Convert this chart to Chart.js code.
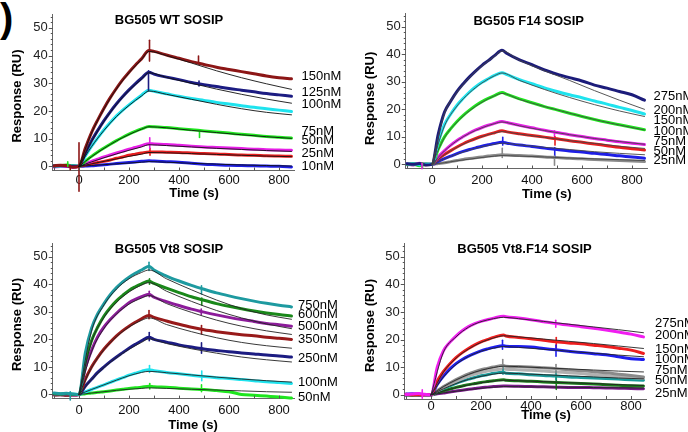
<!DOCTYPE html>
<html>
<head>
<meta charset="utf-8">
<script src="https://cdn.jsdelivr.net/npm/chart.js@4.4.1/dist/chart.umd.min.js"></script>
<style>
  html, body { margin: 0; padding: 0; background: #fff; }
  #wrap { position: relative; width: 688px; height: 432px; overflow: hidden; background: #fff; }
  #wrap canvas { position: absolute; left: 0; top: 0; }
  #paren { position: absolute; left: 0; top: -2px; font: bold 40px "Liberation Sans", Arial, sans-serif; line-height: 40px; color: #000; }
</style>
</head>
<body>
<div id="wrap">
  <div id="paren">)</div>
  <canvas id="c1" width="688" height="432"></canvas>
  <canvas id="c2" width="688" height="432"></canvas>
  <canvas id="c3" width="688" height="432"></canvas>
  <canvas id="c4" width="688" height="432"></canvas>
</div>
<script>
// ---- sampling times (s) ----
const TIME = [-100,-75,-50,-25,0,25,50,75,100,125,150,175,200,225,250,280,300,350,400,450,500,550,600,650,700,750,800,850];
const TIME_VF = [-100,-75,-50,-25,0,25,50,75,100,125,150,175,200,225,250,290,300,350,400,450,500,550,600,650,700,750,800,850];
const FIT_TIME = [0,50,100,150,200,250,280,350,450,550,650,750,850];
const FIT_TIME_VF = [0,50,100,150,200,250,290,350,450,550,650,750,850];

// ---- axis ticks ----
const X_TICKS = [0,200,400,600,800];
const X_MINOR = [-100,0,100,200,300,400,500,600,700,800];
const Y_TICKS = [0,10,20,30,40,50];
const Y_MINOR = [0,2,4,6,8,10,12,14,16,18,20,22,24,26,28,30,32,34,36,38,40,42,44,46,48,50,52,54];

// ---- BG505 WT SOSIP (RU) ----
const WT_LABELS = ['150nM','125nM','100nM','75nM','50nM','25nM','10nM'];
const WT_LABEL_Y = [32.6,26.8,22.4,12.6,9.2,4.5,0];
const WT_150 = [0.2,0.4,0.3,-0.3,0, 6.5,12.2,16.8,21,24.8,28.2,31.3,34,36.5,38.8,41.8, 41.5,40.2,39,37.8,36.8,35.8,35,34.2,33.4,32.6,32,31.6];
const WT_125 = [0.1,0.3,0.2,0,0, 4.8,9.2,13,16.5,19.7,22.6,25.2,27.6,29.8,31.8,34, 33.3,32.2,31.3,30.3,29.5,28.8,28.1,27.5,26.9,26.3,25.8,25.3];
const WT_100 = [0.2,0.1,0.3,0.1,0, 3.7,7.2,10.3,13.2,15.8,18.2,20.3,22.2,24,25.7,27.5, 27.1,26.2,25.3,24.5,23.8,23.1,22.5,21.9,21.3,20.8,20.3,19.8];
const WT_75 = [0.1,0.2,0.5,0.2,0, 1.8,3.6,5.2,6.6,8,9.3,10.5,11.6,12.6,13.5,14.4, 14.3,14,13.6,13.2,12.8,12.4,12,11.6,11.2,10.8,10.5,10.2];
const WT_50 = [-0.2,-0.1,0,-0.3,0, 0.9,1.8,2.6,3.4,4.1,4.8,5.5,6.2,6.8,7.5,8.2, 8.1,7.9,7.6,7.3,7,6.8,6.6,6.4,6.2,6,5.9,5.8];
const WT_25 = [0,-0.1,0.1,-0.2,0, 0.5,1,1.4,1.8,2.3,2.9,3.4,4,4.4,4.8,5.2, 5.2,5.1,5,4.8,4.6,4.5,4.3,4.1,4,3.8,3.7,3.6];
const WT_10 = [0.1,0,-0.1,0.1,0, 0.1,0.2,0.4,0.6,0.8,1,1.2,1.4,1.6,1.8,2, 1.9,1.7,1.5,1.1,0.8,0.6,0.4,0.3,0.2,0.1,0,-0.2];
const WT_FIT_150 = [0,12,20.8,28,33.8,38.6,41.5,40,37.3,34.5,32,29.8,27.8];
const WT_FIT_125 = [0,9,16.3,22.4,27.4,31.5,33.8,32.1,30,27.9,26,24.3,22.8];
const WT_FIT_100 = [0,7.1,13,18,22,25.4,27.2,26,24.2,22.4,20.8,19.5,18.6];
const WT_FIT_75 = [0,3.5,6.5,9.2,11.5,13.4,14.3,13.9,13,12.2,11.4,10.7,10.1];
const WT_FIT_50 = [0,1.6,3.1,4.5,5.8,7,7.8,7.5,7,6.5,6.1,5.7,5.4];
const WT_FIT_25 = [0,0.9,1.8,2.7,3.6,4.4,5,4.9,4.6,4.3,4,3.7,3.5];
const WT_FIT_10 = [0,0.3,0.6,0.9,1.2,1.5,1.7,1.5,1.1,0.8,0.5,0.3,0.1];
// injection transients: [time, low, high, trace index]
const WT_SPIKES = [[0,-9,8.5,0],[282,38,45.5,0],[278,27.5,34.5,1],[283,6.5,10.3,4],[284,4,6.5,5],[-35,-1.2,0.4,0],[-45,0,1.6,3],[478,37,39.8,0],[480,29,30.8,1],[482,10.4,13.2,3]];

// ---- BG505 F14 SOSIP (RU) ----
const F14_LABELS = ['275nM','200nM','150nM','100nM','75nM','50nM','25nM'];
const F14_LABEL_Y = [24.6,19.5,15.9,11.9,8.2,4.8,1.6];
const F14_275 = [0.2,0,0.3,-0.2,0, 11,19,23,26.5,29.3,31.8,34,36,37.7,39.5,41.5, 40.3,38,36.2,34.3,32.8,31.5,30.3,28.8,27.7,26.5,25.3,23.3];
const F14_200 = [0.1,0.2,-0.1,0,0, 8,14.5,18.3,21.5,24,26.3,28.2,29.8,31.1,32.3,33.3, 32.6,30.8,29.3,27.8,26.5,25.3,24.2,23,21.9,20.7,19.6,18.3];
const F14_150 = [0,0.2,-0.5,0.1,0, 5.5,10,13,15.6,17.8,19.7,21.4,22.8,24,25,26.1, 25.4,23.8,22.4,21,19.8,18.6,17.4,16.3,15.3,14.4,13.5,12.6];
const F14_100 = [0.2,-0.1,0.4,0,0, 2.8,5,7,8.7,10.1,11.4,12.5,13.4,14.2,14.9,15.6, 15.2,14.2,13.3,12.4,11.6,10.8,10.1,9.4,8.8,8.2,7.7,7.2];
const F14_75 = [0,0.1,0,-0.1,0, 2,3.6,5,6.3,7.5,8.5,9.4,10.2,10.9,11.5,12.2, 11.8,11.1,10.5,9.9,9.3,8.6,8,7.4,6.8,6.2,5.7,5.2];
const F14_50 = [-0.1,0,0.1,0,0, 1.1,2.1,3,3.9,4.7,5.4,6,6.6,7.1,7.6,8, 7.7,7,6.5,5.9,5.4,4.9,4.5,4,3.6,3.1,2.7,2.2];
const F14_25 = [0,-0.2,0,0.1,0, 0.3,0.6,1,1.4,1.8,2.1,2.4,2.7,3,3.2,3.5, 3.4,3.2,3,2.7,2.5,2.2,2,1.8,1.6,1.4,1.2,1];
const F14_FIT_275 = [0,18.5,26.2,31.6,35.8,39.3,41.2,37.8,34,30.5,26.8,23.3,20];
const F14_FIT_200 = [0,14,21.2,26,29.6,32.2,33.2,30.5,27.2,24.3,21.7,19.4,17.4];
const F14_FIT_150 = [0,9.8,15.4,19.5,22.6,24.9,25.8,23.6,21,18.6,16.3,14.3,12.5];
const F14_FIT_100 = [0,4.9,8.6,11.3,13.3,14.8,15.4,14,12.3,10.8,9.4,8.3,7.3];
const F14_FIT_75 = [0,3.5,6.2,8.4,10.1,11.4,11.9,11,9.8,8.6,7.6,6.6,5.8];
const F14_FIT_50 = [0,2,3.7,5.2,6.4,7.3,7.7,7.1,6.2,5.4,4.6,4,3.5];
const F14_FIT_25 = [0,0.6,1.3,1.9,2.5,3,3.2,3,2.7,2.3,2,1.7,1.4];
const F14_SPIKES = [[281,2.5,5.8,6],[283,7,9.8,5],[490,-0.3,3,6],[491,2.5,6,5],[492,7,10,4],[490,9.5,12.2,3],[-40,-1.6,0.4,3],[-38,-1.2,0.6,2]];

// ---- BG505 Vt8 SOSIP (RU) ----
const VT8_LABELS = ['750nM','600nM','500nM','350nM','250nM','100nM','50nM'];
const VT8_LABEL_Y = [32.4,29,24.8,19.9,13,4.5,-1];
const VT8_750 = [0.5,0.3,0.4,0.2,0, 15,24,29.3,33,36.2,38.8,40.9,42.6,44,45.2,46.6, 45.2,43,41.2,39.6,38.2,36.9,35.8,34.8,33.9,33.1,32.4,31.8];
const VT8_600 = [0.2,0.1,0.3,0,0, 12,19.5,24.5,28.5,31.5,34,36,37.8,39.1,40.2,41.2, 40.3,38.6,37,35.5,34.2,33,32,31.1,30.3,29.6,29,28.5];
const VT8_500 = [0,-0.1,0.1,-0.2,0, 9.5,16,21,24.5,27.2,29.5,31.5,33.3,34.5,35.5,36.4, 35.3,33.7,32.3,31,29.9,28.9,28,27.2,26.5,25.8,25.3,24.8];
const VT8_350 = [-0.2,-0.1,-0.3,-0.2,0, 5.5,10,13.5,16.5,19,21.3,23.2,24.8,26.2,27.5,28.7, 28,26.7,25.5,24.4,23.5,22.8,22.2,21.7,21.3,20.8,20.4,20];
const VT8_250 = [-0.1,0,-0.2,0,0, 3,5.5,8,10,11.9,13.6,15.2,16.8,18.2,19.5,20.8, 20,19,18,17.2,16.5,16,15.5,15.1,14.7,14.3,14,13.6];
const VT8_100 = [0.3,0.2,0.1,0.2,0, 0.9,1.8,2.7,3.5,4.4,5.3,6.1,7,7.7,8.4,9, 8.6,8,7.5,7,6.5,6.1,5.8,5.4,5,4.6,4.3,4];
const VT8_50 = [0,0.1,-0.1,0,0, 0.3,0.5,0.8,1,1.3,1.6,1.9,2.2,2.4,2.6,3, 2.8,2.6,2.3,2,1.8,1.4,1,0,-0.3,-0.6,-0.9,-1.3];
const VT8_FIT_750 = [0,23,32.5,38.3,42,44.3,45.2,42,38,34.3,31.2,28.9,27.3];
const VT8_FIT_600 = [0,19,28,33.5,37.2,39.7,40.6,37.5,33.8,30.5,27.8,25.6,23.9];
const VT8_FIT_500 = [0,15.5,24,29.2,32.8,35,35.9,33,29.8,27,24.8,23.1,21.8];
const VT8_FIT_350 = [0,9.7,16.3,21,24.5,26.9,27.8,25.4,22.8,20.6,18.9,17.7,16.8];
const VT8_FIT_250 = [0,5.4,9.8,13.4,16.4,18.9,20.2,18.5,16.6,15,13.6,12.6,11.8];
const VT8_FIT_100 = [0,1.8,3.5,5.2,6.8,8,8.4,7.9,7.1,6.3,5.6,5,4.5];
const VT8_FIT_50 = [0,0.5,1,1.5,1.9,2.2,2.4,2.2,1.9,1.6,1.3,1,0.8];
const VT8_SPIKES = [[280,45,48,0],[490,36.5,39.5,0],[282,40,42,1],[491,32.5,35,1],[281,35.5,37.5,2],[489,29,31,2],[280,27.5,30.5,3],[490,22,25,3],[281,19.5,22.5,4],[490,15,18.8,4],[282,8,10.5,5],[491,5,8.5,5],[283,2,4,6],[490,1,3.5,6],[-35,-2,1,0]];

// ---- BG505 Vt8.F14 SOSIP (RU) ----
const VF_LABELS = ['275nM','200nM','150nM','100nM','75nM','50nM','25nM'];
const VF_LABEL_Y = [25.7,21.4,16.6,13,9,5.2,0.7];
const VF_275 = [0.1,0.3,0.5,0.2,0, 10,16,19,21.3,23.2,24.7,25.8,26.6,27.2,27.8,28.5, 28.3,27.8,27.2,26.5,25.8,25.3,24.7,24.1,23.5,22.8,22,21];
const VF_200 = [0.2,0,0.1,0,0, 5,8.5,11.2,13.5,15.3,16.8,18.1,19.2,20,20.8,21.7, 21.3,20.8,20.3,19.8,19.2,18.8,18.5,18,17.5,16.9,16.2,15];
const VF_150 = [0.3,0.4,0.2,0.1,0, 3.8,6.8,9.3,11.3,12.8,14,15,15.9,16.6,17.2,17.8, 17.6,17.5,17.3,16.8,16.3,15.8,15.3,14.9,14.5,13.8,13.1,12.8];
const VF_100 = [0.1,0,0.2,0.1,0, 1.5,3,4.3,5.5,6.6,7.6,8.4,9.1,9.6,10.1,10.6, 10.4,10.3,10.1,9.8,9.5,9.1,8.8,8.4,8,7.5,7,6.5];
const VF_100_REPEAT = [0,0.1,0,0,0, 1.3,2.6,3.8,4.9,5.9,6.8,7.5,8.1,8.6,9,9.4, 9.3,9.1,8.9,8.6,8.3,8,7.7,7.3,7,6.6,6.3,6];
const VF_75 = [0,0.1,0.2,0,0, 1.2,2.3,3.3,4.2,5,5.7,6.3,6.9,7.3,7.8,8.2, 7.8,7.6,7.3,7,6.8,6.5,6.3,6.1,5.9,5.7,5.5,5.3];
const VF_50 = [0,-0.1,0,0.1,0, 0.8,1.5,2.1,2.7,3.2,3.7,4.1,4.5,4.8,5.1,5.5, 5.3,5.1,4.9,4.7,4.5,4.3,4.1,3.9,3.7,3.5,3.3,3.2];
const VF_25 = [-0.2,-0.1,-0.2,-0.1,0, 0.4,0.7,1,1.4,1.7,2,2.3,2.6,2.8,3,3.2, 3.2,3.1,3,2.9,2.8,2.7,2.7,2.6,2.5,2.4,2.3,2.2];
const VF_FIT_275 = [0,15.5,21,24.5,26.5,27.6,28.1,27.6,26.6,25.6,24.6,23.6,22.5];
const VF_FIT_200 = [0,8.3,13.3,16.6,19,20.6,21.4,21,20.2,19.4,18.6,17.7,16.8];
const VF_FIT_150 = [0,6.5,11,13.9,15.8,16.9,17.5,17.2,16.5,15.8,15.1,14.4,13.8];
const VF_FIT_100 = [0,3,5.4,7.4,8.9,9.9,10.4,10.2,9.8,9.4,9,8.6,8.3];
const VF_FIT_75 = [0,2.2,4.1,5.6,6.7,7.5,7.9,7.7,7.3,6.9,6.5,6.1,5.8];
const VF_FIT_50 = [0,1.4,2.6,3.6,4.4,5,5.3,5.1,4.8,4.4,4.1,3.7,3.4];
const VF_FIT_25 = [0,0.7,1.3,1.9,2.4,2.8,3,2.95,2.85,2.75,2.65,2.55,2.45];
const VF_SPIKES = [[287,9.5,12.8,3],[500,8,11,3],[286,16.5,19.8,2],[500,14,18,2],[501,17,20.8,1],[499,24.5,27,0],[288,7.5,10.2,5],[500,5.5,8.5,5],[501,2,7,6],[-35,-1.2,1.8,0]];

// ---- drawing ----
const FONT = '"Liberation Sans", Arial, Helvetica, sans-serif';
const W = 688, H = 432, YAXIS_W = 30, XAXIS_H = 30;

function pts(times, vals) { return times.map((t, i) => ({ x: t, y: vals[i] })); }

function buildDatasets(p) {
  const sets = [];
  p.traces.forEach((vals, i) => sets.push({
    data: pts(p.time, vals), borderColor: p.colors[i], borderWidth: 3,
    cubicInterpolationMode: 'monotone', order: 3 + i * 0.01
  }));
  p.spikes.forEach(s => sets.push({
    data: [{ x: s[0], y: s[1] }, { x: s[0], y: s[2] }],
    borderColor: p.colors[s[3]], borderWidth: 1.6, tension: 0, order: 2
  }));
  p.fits.forEach(vals => sets.push({
    data: pts(p.fitTime, vals), borderColor: p.fitColor, borderWidth: 0.9,
    cubicInterpolationMode: 'monotone', order: 1
  }));
  sets.forEach(d => { d.showLine = true; d.pointRadius = 0; d.fill = false; d.clip = false; d.borderJoinStyle = 'round'; d.borderCapStyle = 'round'; });
  return sets;
}

const decor = {
  id: 'decor',
  afterDraw(chart, args, o) {
    const { ctx, chartArea: a, scales: { x, y } } = chart;
    ctx.save();
    ctx.strokeStyle = '#555';
    ctx.lineWidth = 1;
    ctx.beginPath();
    Y_MINOR.forEach(v => {
      const py = Math.round(y.getPixelForValue(v)) + 0.5;
      ctx.moveTo(a.left - (v % 10 === 0 ? 4 : 2), py);
      ctx.lineTo(a.left, py);
    });
    X_MINOR.forEach(v => {
      const px = Math.round(x.getPixelForValue(v)) + 0.5;
      ctx.moveTo(px, a.bottom);
      ctx.lineTo(px, a.bottom - 3);
    });
    ctx.stroke();

    ctx.fillStyle = '#000';
    ctx.textBaseline = 'middle';
    ctx.textAlign = 'left';
    ctx.font = '13px ' + FONT;
    o.labels.forEach((s, i) => ctx.fillText(s, a.right + o.labelGap, y.getPixelForValue(o.labelY[i])));

    ctx.textAlign = 'center';
    ctx.font = 'bold 13px ' + FONT;
    ctx.fillText(o.title, o.titlePos[0], o.titlePos[1]);
    ctx.fillText('Time (s)', o.xTitlePos[0], o.xTitlePos[1]);
    ctx.translate(o.yTitlePos[0], o.yTitlePos[1]);
    ctx.rotate(-Math.PI / 2);
    ctx.fillText('Response (RU)', 0, 0);
    ctx.restore();
  }
};

function makePanel(id, p) {
  const box = p.box; // [left, right, top, bottom] of the plotting area
  new Chart(document.getElementById(id), {
    type: 'scatter',
    data: { datasets: buildDatasets(p) },
    plugins: [decor],
    options: {
      responsive: false,
      animation: false,
      devicePixelRatio: 1,
      events: [],
      layout: { padding: { left: box[0] - YAXIS_W, right: W - box[1], top: box[2], bottom: H - box[3] - XAXIS_H } },
      plugins: {
        legend: { display: false },
        tooltip: { enabled: false },
        decor: {
          title: p.title, titlePos: p.titlePos, xTitlePos: p.xTitlePos, yTitlePos: p.yTitlePos,
          labels: p.labels, labelY: p.labelY, labelGap: p.labelGap
        }
      },
      scales: {
        x: {
          type: 'linear', min: -105, max: 860,
          afterFit(s) { s.height = XAXIS_H; },
          afterBuildTicks(s) { s.ticks = X_TICKS.map(v => ({ value: v })); },
          grid: { display: false, drawTicks: false },
          border: { display: true, color: '#666', width: 1 },
          ticks: { padding: p.xTickPad, color: '#111', font: { family: FONT, size: 13 }, maxRotation: 0, autoSkip: false }
        },
        y: {
          type: 'linear', min: -1.5, max: 55,
          afterFit(s) { s.width = YAXIS_W; },
          afterBuildTicks(s) { s.ticks = Y_TICKS.map(v => ({ value: v })); },
          grid: { display: false, drawTicks: false },
          border: { display: true, color: '#666', width: 1 },
          ticks: { padding: 5, color: '#222', font: { family: FONT, size: 13 }, autoSkip: false }
        }
      }
    }
  });
}

makePanel('c1', {
  title: 'BG505 WT SOSIP', box: [52.75, 294, 14, 170.5], xTickPad: 2.4,
  titlePos: [169, 20], xTitlePos: [194, 193], yTitlePos: [17, 96],
  time: TIME, fitTime: FIT_TIME,
  traces: [WT_150, WT_125, WT_100, WT_75, WT_50, WT_25, WT_10],
  colors: ['#8c1616', '#1c1c82', '#1fe3ee', '#1ee61e', '#e61ee6', '#e61e1e', '#1e1ee6'],
  fits: [WT_FIT_150, WT_FIT_125, WT_FIT_100, WT_FIT_75, WT_FIT_50, WT_FIT_25, WT_FIT_10], fitColor: '#111',
  spikes: WT_SPIKES, labels: WT_LABELS, labelY: WT_LABEL_Y, labelGap: 7.5
});
makePanel('c2', {
  title: 'BG505 F14 SOSIP', box: [405.75, 647, 13, 168.5], xTickPad: 4.4,
  titlePos: [528.7, 21.5], xTitlePos: [546.7, 194], yTitlePos: [370.7, 98.3],
  time: TIME, fitTime: FIT_TIME,
  traces: [F14_275, F14_200, F14_150, F14_100, F14_75, F14_50, F14_25],
  colors: ['#1c1c7a', '#1fe3ee', '#1ee61e', '#e61ee6', '#e61e1e', '#1e1ee6', '#8a8a8a'],
  fits: [F14_FIT_275, F14_FIT_200, F14_FIT_150, F14_FIT_100, F14_FIT_75, F14_FIT_50, F14_FIT_25], fitColor: '#444',
  spikes: F14_SPIKES, labels: F14_LABELS, labelY: F14_LABEL_Y, labelGap: 6.5
});
makePanel('c3', {
  title: 'BG505 Vt8 SOSIP', box: [52.75, 294, 243, 398.6], xTickPad: 3.6,
  titlePos: [169, 249.3], xTitlePos: [193, 425], yTitlePos: [17.3, 324.5],
  time: TIME, fitTime: FIT_TIME,
  traces: [VT8_750, VT8_600, VT8_500, VT8_350, VT8_250, VT8_100, VT8_50],
  colors: ['#1e9aa0', '#1a881a', '#8c1c9a', '#981a1a', '#1c1c82', '#1fe3ee', '#1ee61e'],
  fits: [VT8_FIT_750, VT8_FIT_600, VT8_FIT_500, VT8_FIT_350, VT8_FIT_250, VT8_FIT_100, VT8_FIT_50], fitColor: '#222',
  spikes: VT8_SPIKES, labels: VT8_LABELS, labelY: VT8_LABEL_Y, labelGap: 4
});
makePanel('c4', {
  title: 'BG505 Vt8.F14 SOSIP', box: [404.75, 646, 243, 399], xTickPad: 0,
  titlePos: [524.5, 249.3], xTitlePos: [546, 415.3], yTitlePos: [370.7, 325.5],
  time: TIME_VF, fitTime: FIT_TIME_VF,
  traces: [VF_275, VF_200, VF_150, VF_100, VF_100_REPEAT, VF_75, VF_50, VF_25],
  colors: ['#f01ef0', '#ee1e1e', '#1e1eee', '#8a8a8a', '#b0b0b0', '#1a9a9a', '#1a7a1a', '#7a1a8a'],
  fits: [VF_FIT_275, VF_FIT_200, VF_FIT_150, VF_FIT_100, VF_FIT_75, VF_FIT_50, VF_FIT_25], fitColor: '#222',
  spikes: VF_SPIKES, labels: VF_LABELS, labelY: VF_LABEL_Y, labelGap: 9
});
</script>
</body>
</html>
